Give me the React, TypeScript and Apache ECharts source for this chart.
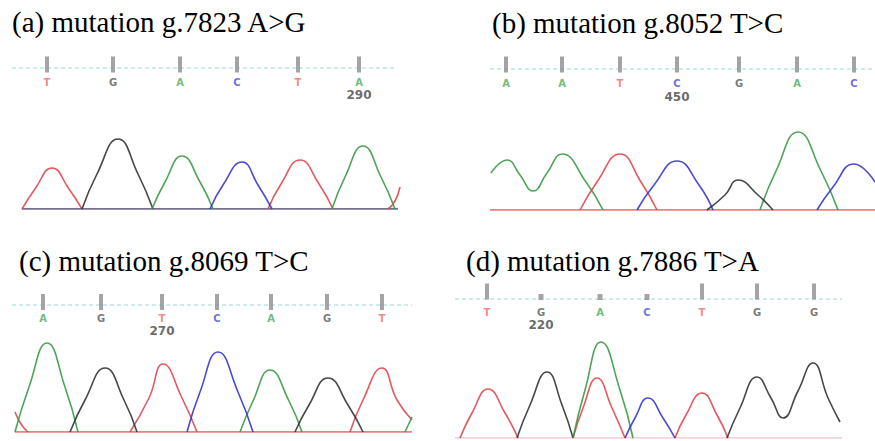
import React, { useEffect, useRef } from "react";
import * as echarts from "echarts";

// ---- Titles ----
const titles = [
  "(a) mutation g.7823 A>G",
  "(b) mutation g.8052 T>C",
  "(c) mutation g.8069 T>C",
  "(d) mutation g.7886 T>A",
];

// Traces: [scan position, intensity]; null separates distinct peaks
type Pt = number[] | null;

// ---- Panel (a) ----
const aT: Pt[] = [[10, 0], [23, 20], [40, 41], [57, 20], [70, 0], null,
  [256, 0], [269, 25], [288, 49], [307, 25], [321, 0], null,
  [376, 0], [383, 8], [388, 22]];
const aG: Pt[] = [[70, 0], [85, 35], [106, 70], [126, 35], [141, 0]];
const aA: Pt[] = [[140, 0], [153, 27], [170, 53], [188, 27], [201, 0], null,
  [320, 0], [333, 32], [351, 63], [369, 32], [383, 0]];
const aC: Pt[] = [[198, 0], [211, 24], [230, 47], [246, 24], [260, 0]];
const aCalls = ["T", "G", "A", "C", "T", "A"];
const aCallPos = [35, 101, 168, 225, 286, 347];
const aMarkIndex = 5;
const aMarkText = "290";

// ---- Panel (b) ----
const bA: Pt[] = [[1, 37], [17, 50], [30, 35], [43, 19], [57, 37], [72, 56], [96, 28], [113, 0], null,
  [270, 0], [286, 39], [308, 78], [331, 39], [348, 0]];
const bT: Pt[] = [[90, 0], [107, 28], [130, 56], [151, 28], [167, 0]];
const bC: Pt[] = [[147, 0], [164, 25], [187, 49], [209, 25], [223, 0], null,
  [327, 0], [343, 23], [364, 46], [385, 28]];
const bG: Pt[] = [[217, 0], [235, 15], [248, 30], [268, 15], [283, 0]];
const bCalls = ["A", "A", "T", "C", "G", "A", "C"];
const bCallPos = [16, 72, 130, 187, 249, 307, 364];
const bMarkIndex = 3;
const bMarkText = "450";

// ---- Panel (c) ----
const cT: Pt[] = [[3, 20], [9, 8], [16, 0], null,
  [118, 0], [137, 34], [151, 68], [170, 34], [185, 0], null,
  [338, 0], [351, 32], [370, 64], [385, 32], [400, 12]];
const cA: Pt[] = [[3, 0], [17, 45], [35, 89], [53, 45], [66, 0], null,
  [228, 0], [241, 31], [258, 62], [277, 31], [290, 0], null,
  [393, 0], [400, 15]];
const cG: Pt[] = [[58, 0], [73, 32], [93, 64], [112, 32], [125, 0], null,
  [283, 0], [297, 27], [316, 54], [336, 27], [351, 0]];
const cC: Pt[] = [[175, 0], [188, 40], [206, 80], [226, 40], [241, 0]];
const cCalls = ["A", "G", "T", "C", "A", "G", "T"];
const cCallPos = [31, 89, 150, 205, 259, 315, 370];
const cMarkIndex = 2;
const cMarkText = "270";

// ---- Panel (d) ----
const dT: Pt[] = [[5, 0], [17, 25], [33, 49], [50, 25], [63, 0], null,
  [118, 0], [128, 30], [142, 60], [157, 30], [170, 0], null,
  [220, 0], [231, 23], [247, 45], [262, 23], [273, 0]];
const dG: Pt[] = [[62, 0], [75, 33], [92, 66], [107, 33], [118, 0], null,
  [272, 0], [285, 30], [302, 61], [316, 40], [328, 20], [343, 47], [358, 75], [373, 40], [385, 16]];
const dA: Pt[] = [[118, 0], [130, 48], [146, 96], [165, 48], [178, 0]];
const dC: Pt[] = [[170, 0], [180, 20], [193, 40], [208, 20], [220, 0]];
const dCalls = ["T", "G", "A", "C", "T", "G", "G"];
const dCallPos = [32, 86, 145, 192, 247, 302, 359];
const dCallQuality = [1, 0, 0, 0, 1, 1, 1];
const dMarkIndex = 1;
const dMarkText = "220";

const BASE_COLOR: Record<string, string> = {
  A: "#3a9a46",
  C: "#3636cc",
  G: "#333333",
  T: "#e0474c",
};
const LABEL_COLOR: Record<string, string> = {
  A: "#4aa85a",
  C: "#4a4ad6",
  G: "#555555",
  T: "#ec6a6a",
};

type Panel = {
  traces: { base: string; data: Pt[] }[];
  calls: string[];
  callPos: number[];
  quality?: number[];
  markIndex: number;
  markText: string;
  grid: { left: number; top: number; width: number; height: number };
  baseline: { from: number; to: number; color: string };
  dash: { from: number; to: number; y: number };
  barY: number;
  letterY: number;
  numberY: number;
  title: { left: number; top: number };
};

const panels: Panel[] = [
  {
    traces: [
      { base: "T", data: aT },
      { base: "G", data: aG },
      { base: "A", data: aA },
      { base: "C", data: aC },
    ],
    calls: aCalls,
    callPos: aCallPos,
    markIndex: aMarkIndex,
    markText: aMarkText,
    grid: { left: 12, top: 48, width: 388, height: 161 },
    baseline: { from: 10, to: 386, color: "#4a3f6b" },
    dash: { from: 0, to: 385, y: 141 },
    barY: 144.5,
    letterY: 127,
    numberY: 114,
    title: { left: 12, top: 7 },
  },
  {
    traces: [
      { base: "A", data: bA },
      { base: "T", data: bT },
      { base: "C", data: bC },
      { base: "G", data: bG },
    ],
    calls: bCalls,
    callPos: bCallPos,
    markIndex: bMarkIndex,
    markText: bMarkText,
    grid: { left: 490, top: 49, width: 385, height: 161 },
    baseline: { from: 0, to: 385, color: "#dd5a5a" },
    dash: { from: 0, to: 385, y: 141 },
    barY: 145.5,
    letterY: 127,
    numberY: 113,
    title: { left: 492, top: 8 },
  },
  {
    traces: [
      { base: "T", data: cT },
      { base: "A", data: cA },
      { base: "G", data: cG },
      { base: "C", data: cC },
    ],
    calls: cCalls,
    callPos: cCallPos,
    markIndex: cMarkIndex,
    markText: cMarkText,
    grid: { left: 12, top: 272, width: 400, height: 160 },
    baseline: { from: 3, to: 400, color: "#dd5a5a" },
    dash: { from: 0, to: 400, y: 127 },
    barY: 130,
    letterY: 114,
    numberY: 101,
    title: { left: 19, top: 246 },
  },
  {
    traces: [
      { base: "T", data: dT },
      { base: "G", data: dG },
      { base: "A", data: dA },
      { base: "C", data: dC },
    ],
    calls: dCalls,
    callPos: dCallPos,
    quality: dCallQuality,
    markIndex: dMarkIndex,
    markText: dMarkText,
    grid: { left: 455, top: 278, width: 390, height: 160 },
    baseline: { from: 0, to: 387, color: "#f2c4c8" },
    dash: { from: 0, to: 387, y: 139 },
    barY: 146.5,
    letterY: 126,
    numberY: 113,
    title: { left: 466, top: 246 },
  },
];

function buildOption() {
  const grid: any[] = [];
  const xAxis: any[] = [];
  const yAxis: any[] = [];
  const series: any[] = [];
  const title: any[] = [];

  panels.forEach((p, i) => {
    grid.push({ ...p.grid });
    xAxis.push({ type: "value", gridIndex: i, min: 0, max: p.grid.width, show: false });
    yAxis.push({ type: "value", gridIndex: i, min: 0, max: p.grid.height, show: false });
    title.push({
      text: titles[i],
      left: p.title.left,
      top: p.title.top,
      padding: 0,
      textStyle: {
        fontFamily: "Liberation Serif",
        fontSize: 29,
        fontWeight: "normal",
        color: "#000",
      },
    });

    const common = { xAxisIndex: i, yAxisIndex: i };

    // dashed reference line
    series.push({
      ...common,
      type: "line",
      data: [
        [p.dash.from, p.dash.y],
        [p.dash.to, p.dash.y],
      ],
      symbol: "none",
      lineStyle: { color: "#9fd6d6", width: 1, type: [4, 3] },
      silent: true,
      z: 1,
    });

    // baseline
    series.push({
      ...common,
      type: "line",
      data: [
        [p.baseline.from, 0],
        [p.baseline.to, 0],
      ],
      symbol: "none",
      lineStyle: { color: p.baseline.color, width: 1.6 },
      silent: true,
      z: 2,
    });

    // traces
    p.traces.forEach((t) => {
      series.push({
        ...common,
        type: "line",
        name: t.base,
        data: t.data.map((d) => (d === null ? [null, null] : d)),
        connectNulls: false,
        smooth: 0.5,
        symbol: "none",
        clip: false,
        lineStyle: { color: BASE_COLOR[t.base], width: 1.6, opacity: 0.9 },
        silent: true,
        z: 3,
      });
    });

    // base-call bars
    series.push({
      ...common,
      type: "scatter",
      data: p.callPos.map((x, k) => {
        const q = p.quality ? p.quality[k] : 1;
        return {
          value: [x, q ? p.barY : p.dash.y + 2],
          symbolSize: q ? [4, 16] : [5, 6],
        };
      }),
      symbol: "rect",
      itemStyle: { color: "#8d8d8d" },
      silent: true,
      z: 4,
    });

    // base-call letters
    series.push({
      ...common,
      type: "scatter",
      data: p.callPos.map((x, k) => ({
        value: [x, p.letterY],
        label: { color: LABEL_COLOR[p.calls[k]] },
      })),
      symbolSize: 1,
      itemStyle: { color: "rgba(0,0,0,0)" },
      label: {
        show: true,
        position: "inside",
        formatter: (prm: any) => p.calls[prm.dataIndex],
        fontFamily: "DejaVu Sans",
        fontWeight: "bold",
        fontSize: 10,
      },
      silent: true,
      z: 5,
    });

    // position number
    series.push({
      ...common,
      type: "scatter",
      data: [[p.callPos[p.markIndex], p.numberY]],
      symbolSize: 1,
      itemStyle: { color: "rgba(0,0,0,0)" },
      label: {
        show: true,
        position: "inside",
        formatter: p.markText,
        fontFamily: "DejaVu Sans",
        fontWeight: "bold",
        fontSize: 12,
        color: "#444",
      },
      silent: true,
      z: 5,
    });
  });

  return {
    animation: false,
    backgroundColor: "#ffffff",
    title,
    grid,
    xAxis,
    yAxis,
    series,
  };
}

export default function App() {
  const ref = useRef<HTMLDivElement>(null);
  useEffect(() => {
    if (!ref.current) return;
    const chart = echarts.init(ref.current, undefined, { renderer: "svg" });
    chart.setOption(buildOption() as any);
    return () => chart.dispose();
  }, []);
  return (
    <div
      ref={ref}
      style={{ position: "fixed", left: 0, top: 0, width: 875, height: 441, background: "#fff" }}
    />
  );
}
